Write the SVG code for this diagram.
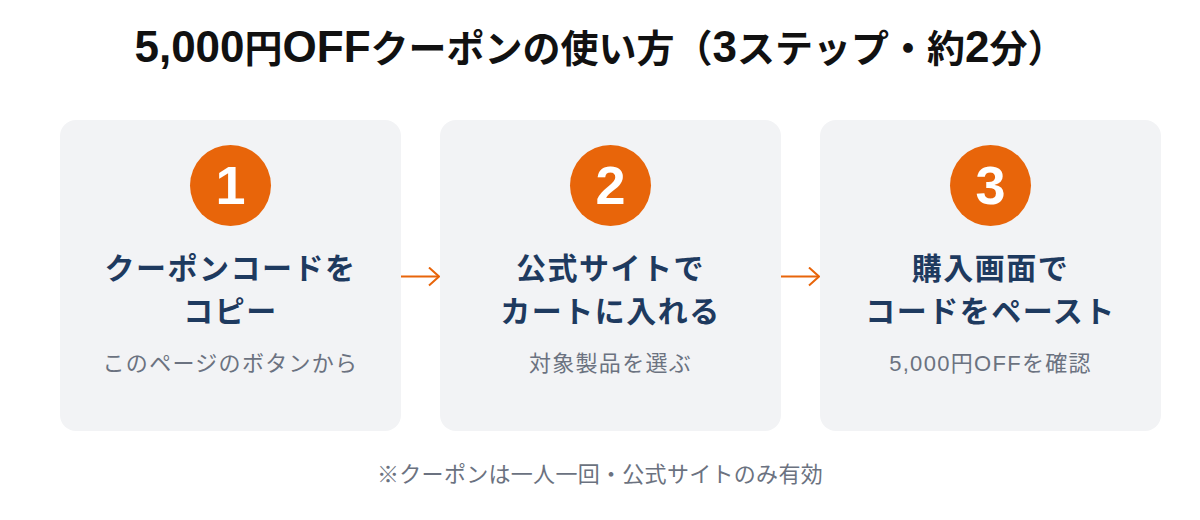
<svg xmlns="http://www.w3.org/2000/svg" width="1200" height="520" viewBox="0 0 1200 520">
<defs>
<style>
text{font-family:"Liberation Sans","Noto Sans CJK JP",sans-serif;text-anchor:middle}
.title{font-size:38px;font-weight:700;fill:#111111}
.lat{font-size:44px}
.box{fill:#f2f3f5}
.badge{fill:#e8650a}
.num{font-size:54px;font-weight:700;fill:#ffffff}
.head{font-size:30px;font-weight:700;fill:#1e3a5f;letter-spacing:1.5px}
.sub{font-size:22px;fill:#6b7280;letter-spacing:1.3px}
.note{font-size:22px;fill:#6b7280;letter-spacing:0.3px}
.conn{stroke:#e8650a;stroke-width:2;fill:none}
</style>
<marker id="arr" viewBox="0 0 12 20" refX="11" refY="10" markerWidth="12" markerHeight="20" markerUnits="userSpaceOnUse" orient="auto">
<path d="M1,1 L11,10 L1,19" fill="none" stroke="#e8650a" stroke-width="2"/>
</marker>
</defs>
<rect width="1200" height="520" fill="#ffffff"/>
<text class="title" x="600" y="62"><tspan class="lat">5,000</tspan>円<tspan class="lat">OFF</tspan>クーポンの使い方（<tspan class="lat">3</tspan>ステップ・約<tspan class="lat">2</tspan>分）</text>
<g id="step1">
<rect class="box" x="60" y="120" width="341" height="311" rx="16"/>
<circle class="badge" cx="230.5" cy="185.5" r="40.5"/>
<text class="num" x="230.5" y="204">1</text>
<text class="head" x="230.5" y="279">クーポンコードを</text>
<text class="head" x="230.5" y="322">コピー</text>
<text class="sub" x="230.5" y="371">このページのボタンから</text>
</g>
<g id="step2">
<rect class="box" x="440" y="120" width="341" height="311" rx="16"/>
<circle class="badge" cx="610.5" cy="185.5" r="40.5"/>
<text class="num" x="610.5" y="204">2</text>
<text class="head" x="610.5" y="279">公式サイトで</text>
<text class="head" x="610.5" y="322">カートに入れる</text>
<text class="sub" x="610.5" y="371">対象製品を選ぶ</text>
</g>
<g id="step3">
<rect class="box" x="820" y="120" width="341" height="311" rx="16"/>
<circle class="badge" cx="990.5" cy="185.5" r="40.5"/>
<text class="num" x="990.5" y="204">3</text>
<text class="head" x="990.5" y="279">購入画面で</text>
<text class="head" x="990.5" y="322">コードをペースト</text>
<text class="sub" x="990.5" y="371">5,000円OFFを確認</text>
</g>
<g id="connectors">
<line class="conn" x1="401" y1="276.5" x2="439" y2="276.5" marker-end="url(#arr)"/>
<line class="conn" x1="781" y1="276.5" x2="819" y2="276.5" marker-end="url(#arr)"/>
</g>
<text class="note" x="600" y="482">※クーポンは一人一回・公式サイトのみ有効</text>
</svg>
